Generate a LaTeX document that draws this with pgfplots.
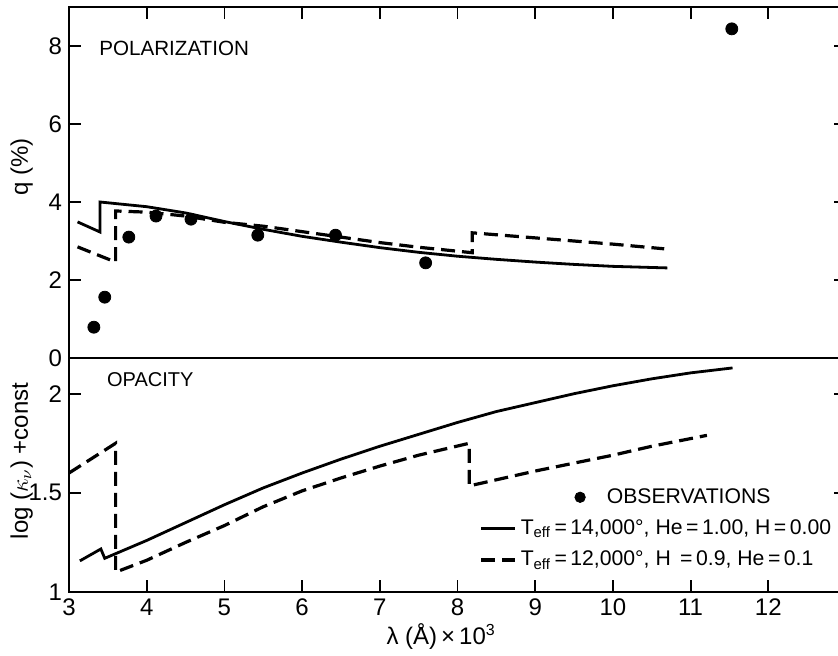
\documentclass[border=0pt]{standalone}
\usepackage{fontspec}
\setmainfont{Liberation Sans}
\usepackage{pgfplots}
\pgfplotsset{compat=1.18}

\pgfplotsset{
  panel/.style={
    scale only axis, width=388.5pt,
    xmin=3, xmax=13, xtick={3,...,12},
    axis line style={line width=1pt},
    major tick style={line width=0.9pt, black},
    major tick length=6pt, tick align=inside,
    ytick pos=both, yticklabel pos=left,
    /pgf/number format/assume math mode=true,
    tick label style={font=\fontsize{12}{14}\selectfont},
    label style={font=\fontsize{12}{14}\selectfont},
  },
  solidcurve/.style={black, line width=1.4pt},
  dashedcurve/.style={black, line width=1.6pt, dash pattern=on 7pt off 3.5pt},
}

\begin{document}
\begin{tikzpicture}
% upper panel: polarization
\begin{axis}[panel, name=upper, at={(0,117pt)}, anchor=south west,
    height=175.5pt, ymin=0, ymax=9, ytick={0,2,4,6,8},
    xtick pos=right, xticklabels={},
    ylabel={q (\%)},
    ylabel style={at={(axis description cs:-0.061,0.544)}, anchor=center}]
  \addplot[only marks, mark=*, mark size=3pt, black] coordinates {
    (3.32,0.79) (3.46,1.56) (3.77,3.10) (4.12,3.64) (4.57,3.56)
    (5.43,3.15) (6.43,3.15) (7.59,2.44) (11.53,8.44)};
  \addplot[solidcurve] coordinates {
    (3.11,3.49) (3.40,3.23) (3.40,4.00) (4.00,3.88) (4.50,3.72)
    (5.00,3.50) (5.50,3.30) (6.00,3.12) (6.50,2.97) (7.00,2.83)
    (7.50,2.71) (8.00,2.61) (8.50,2.53) (9.00,2.46) (9.50,2.40)
    (10.00,2.35) (10.70,2.31)};
  \addplot[dashedcurve] coordinates {
    (3.11,2.85) (3.60,2.46) (3.60,3.77) (4.00,3.74) (4.50,3.64)
    (5.00,3.48) (5.50,3.38) (6.00,3.24) (6.50,3.10) (7.00,2.96)
    (7.50,2.84) (8.19,2.70) (8.19,3.21) (9.00,3.08) (10.00,2.92)
    (10.66,2.80)};
  \node[anchor=west, font=\fontsize{10.3}{12}\selectfont] at (axis cs:3.30,7.95) {POLARIZATION};
\end{axis}
% lower panel: opacity
\begin{axis}[panel, name=lower, at={(0,0)}, anchor=south west,
    height=117pt, ymin=1, ymax=2.18, ytick={1,1.5,2},
    xtick pos=left,
    ylabel={log ($\kappa_\nu$) +const},
    ylabel style={at={(axis description cs:-0.061,0.56)}, anchor=center},
    xlabel={λ (Å)\,×\,10\textsuperscript{3}},
    xlabel style={at={(axis description cs:0.479,0)}, anchor=north, yshift=-12pt},
    legend style={draw=none, fill=none, at={(axis cs:8.2,1.565)}, anchor=north west,
      font=\fontsize{10.6}{12}\selectfont, row sep=2.8pt},
    legend cell align=left]
  \addlegendimage{only marks, mark=*, mark size=2.6pt, black,
    legend image post style={xshift=41pt, overlay}}
  \addlegendentry{\hspace*{43pt}OBSERVATIONS}
  \addplot[solidcurve] coordinates {
    (3.14,1.157) (3.41,1.217) (3.46,1.170) (3.70,1.210) (4.00,1.260)
    (4.50,1.350) (5.00,1.440) (5.50,1.525) (6.00,1.600) (6.50,1.670)
    (7.00,1.735) (7.50,1.795) (8.00,1.855) (8.50,1.910) (9.00,1.955)
    (9.50,2.000) (10.00,2.040) (10.50,2.075) (11.00,2.105) (11.54,2.130)};
  \addlegendentry{T\textsubscript{eff}\,=\,14,000°,\ He\,=\,1.00,\ H\,=\,0.00}
  \addplot[dashedcurve] coordinates {
    (3.00,1.600) (3.60,1.750) (3.60,1.100) (3.70,1.115) (4.00,1.160)
    (4.50,1.250) (5.00,1.335) (5.50,1.430) (6.00,1.510) (6.50,1.575)
    (7.00,1.635) (7.50,1.690) (8.15,1.750) (8.15,1.535) (9.00,1.610)
    (10.00,1.690) (10.50,1.735) (11.21,1.790)};
  \addlegendentry{T\textsubscript{eff}\,=\,12,000°,\ H\ \,=\,0.9,\ He\,=\,0.1}
  \node[anchor=west, font=\fontsize{10}{12}\selectfont] at (axis cs:3.40,2.07) {OPACITY};
\end{axis}
\pgfresetboundingbox
\path[use as bounding box] (-34.5pt,-31.5pt) rectangle (384.5pt,296pt);
\end{tikzpicture}
\end{document}
